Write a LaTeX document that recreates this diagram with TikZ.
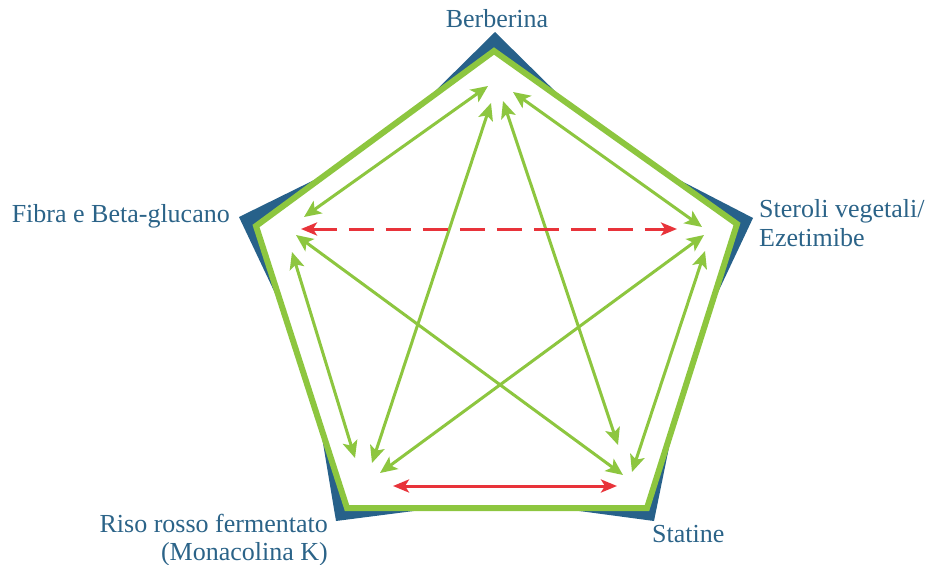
\documentclass[tikz,border=0pt]{standalone}
\usepackage{fontspec}
\setmainfont{Liberation Serif}
\usepackage{xcolor}
\usepackage{tikz}
\usetikzlibrary{arrows.meta,calc}
\definecolor{penblue}{HTML}{27618A}
\definecolor{pentext}{HTML}{2B6388}
\definecolor{pengreen}{HTML}{8DC63F}
\definecolor{penred}{HTML}{E8333A}

\begin{document}
\begin{tikzpicture}[x=1pt,y=-1pt,
  lbl/.style={text=pentext,font=\rmfamily\fontsize{26}{29}\selectfont,inner sep=0pt},
  link/.style={draw=pengreen,line width=3pt,{Stealth[length=17pt,width=15pt,inset=4pt]}-{Stealth[length=17pt,width=15pt,inset=4pt]}},
  clash/.style={draw=penred,line width=3pt,{Stealth[length=16pt,width=13pt,inset=4pt]}-{Stealth[length=16pt,width=13pt,inset=4pt]}}
]
\useasboundingbox (0,0) rectangle (932,565);
% pentagon frame
\coordinate (gb) at (494,51);  \coordinate (gs) at (737,224);
\coordinate (gt) at (647,508); \coordinate (gr) at (347,508);
\coordinate (gf) at (256,226);
\fill[penblue] (495,32) -- ($(gb)!0.3!(gs)$) -- ($(gb)!0.7!(gs)$)
  -- (753,218) -- ($(gs)!0.3!(gt)$) -- ($(gs)!0.7!(gt)$)
  -- (654,521) -- ($(gt)!0.3!(gr)$) -- ($(gt)!0.7!(gr)$)
  -- (336,521) -- ($(gr)!0.3!(gf)$) -- ($(gr)!0.7!(gf)$)
  -- (239,217) -- ($(gf)!0.3!(gb)$) -- ($(gf)!0.7!(gb)$) -- cycle;
\draw[draw=pengreen,fill=white,line width=6pt,line join=miter] (gb) -- (gs) -- (gt) -- (gr) -- (gf) -- cycle;
% labels
\node[lbl,anchor=base] (berb) at (497,27) {Berberina};
\node[lbl,anchor=base west] (ster) at (759,217) {Steroli vegetali/};
\node[lbl,anchor=base west] (ezet) at (759,246) {Ezetimibe};
\node[lbl,anchor=base east] (fibr) at (230,222) {Fibra e Beta-glucano};
\node[lbl,anchor=base east] (riso) at (328,532) {Riso rosso fermentato};
\node[lbl,anchor=base east] (mona) at (328,560) {(Monacolina K)};
\node[lbl,anchor=base west] (stat) at (652,542) {Statine};
% arrow ends
\coordinate (b-f) at (488,86);   \coordinate (f-b) at (304,217);
\coordinate (b-s) at (513,92);   \coordinate (s-b) at (702,227);
\coordinate (b-r) at (491,103);  \coordinate (r-b) at (372,463);
\coordinate (b-t) at (503,101);  \coordinate (t-b) at (618,445);
\coordinate (f-s) at (301,229);  \coordinate (s-f) at (677,229);
\coordinate (f-r) at (292,252);  \coordinate (r-f) at (355,458);
\coordinate (f-t) at (296,235);  \coordinate (t-f) at (623,475);
\coordinate (s-r) at (704,235);  \coordinate (r-s) at (380,473);
\coordinate (s-t) at (705,251);  \coordinate (t-s) at (632,472);
\coordinate (r-t) at (393,486);  \coordinate (t-r) at (617,486);
% interactions
\draw[link] (f-b) -- (b-f);
\draw[link] (b-s) -- (s-b);
\draw[link] (r-b) -- (b-r);
\draw[link] (b-t) -- (t-b);
\draw[link] (f-r) -- (r-f);
\draw[link] (f-t) -- (t-f);
\draw[link] (s-r) -- (r-s);
\draw[link] (s-t) -- (t-s);
\draw[clash,dash pattern=on 25pt off 12pt] (f-s) -- (s-f);
\draw[clash] (r-t) -- (t-r);
\end{tikzpicture}
\end{document}
